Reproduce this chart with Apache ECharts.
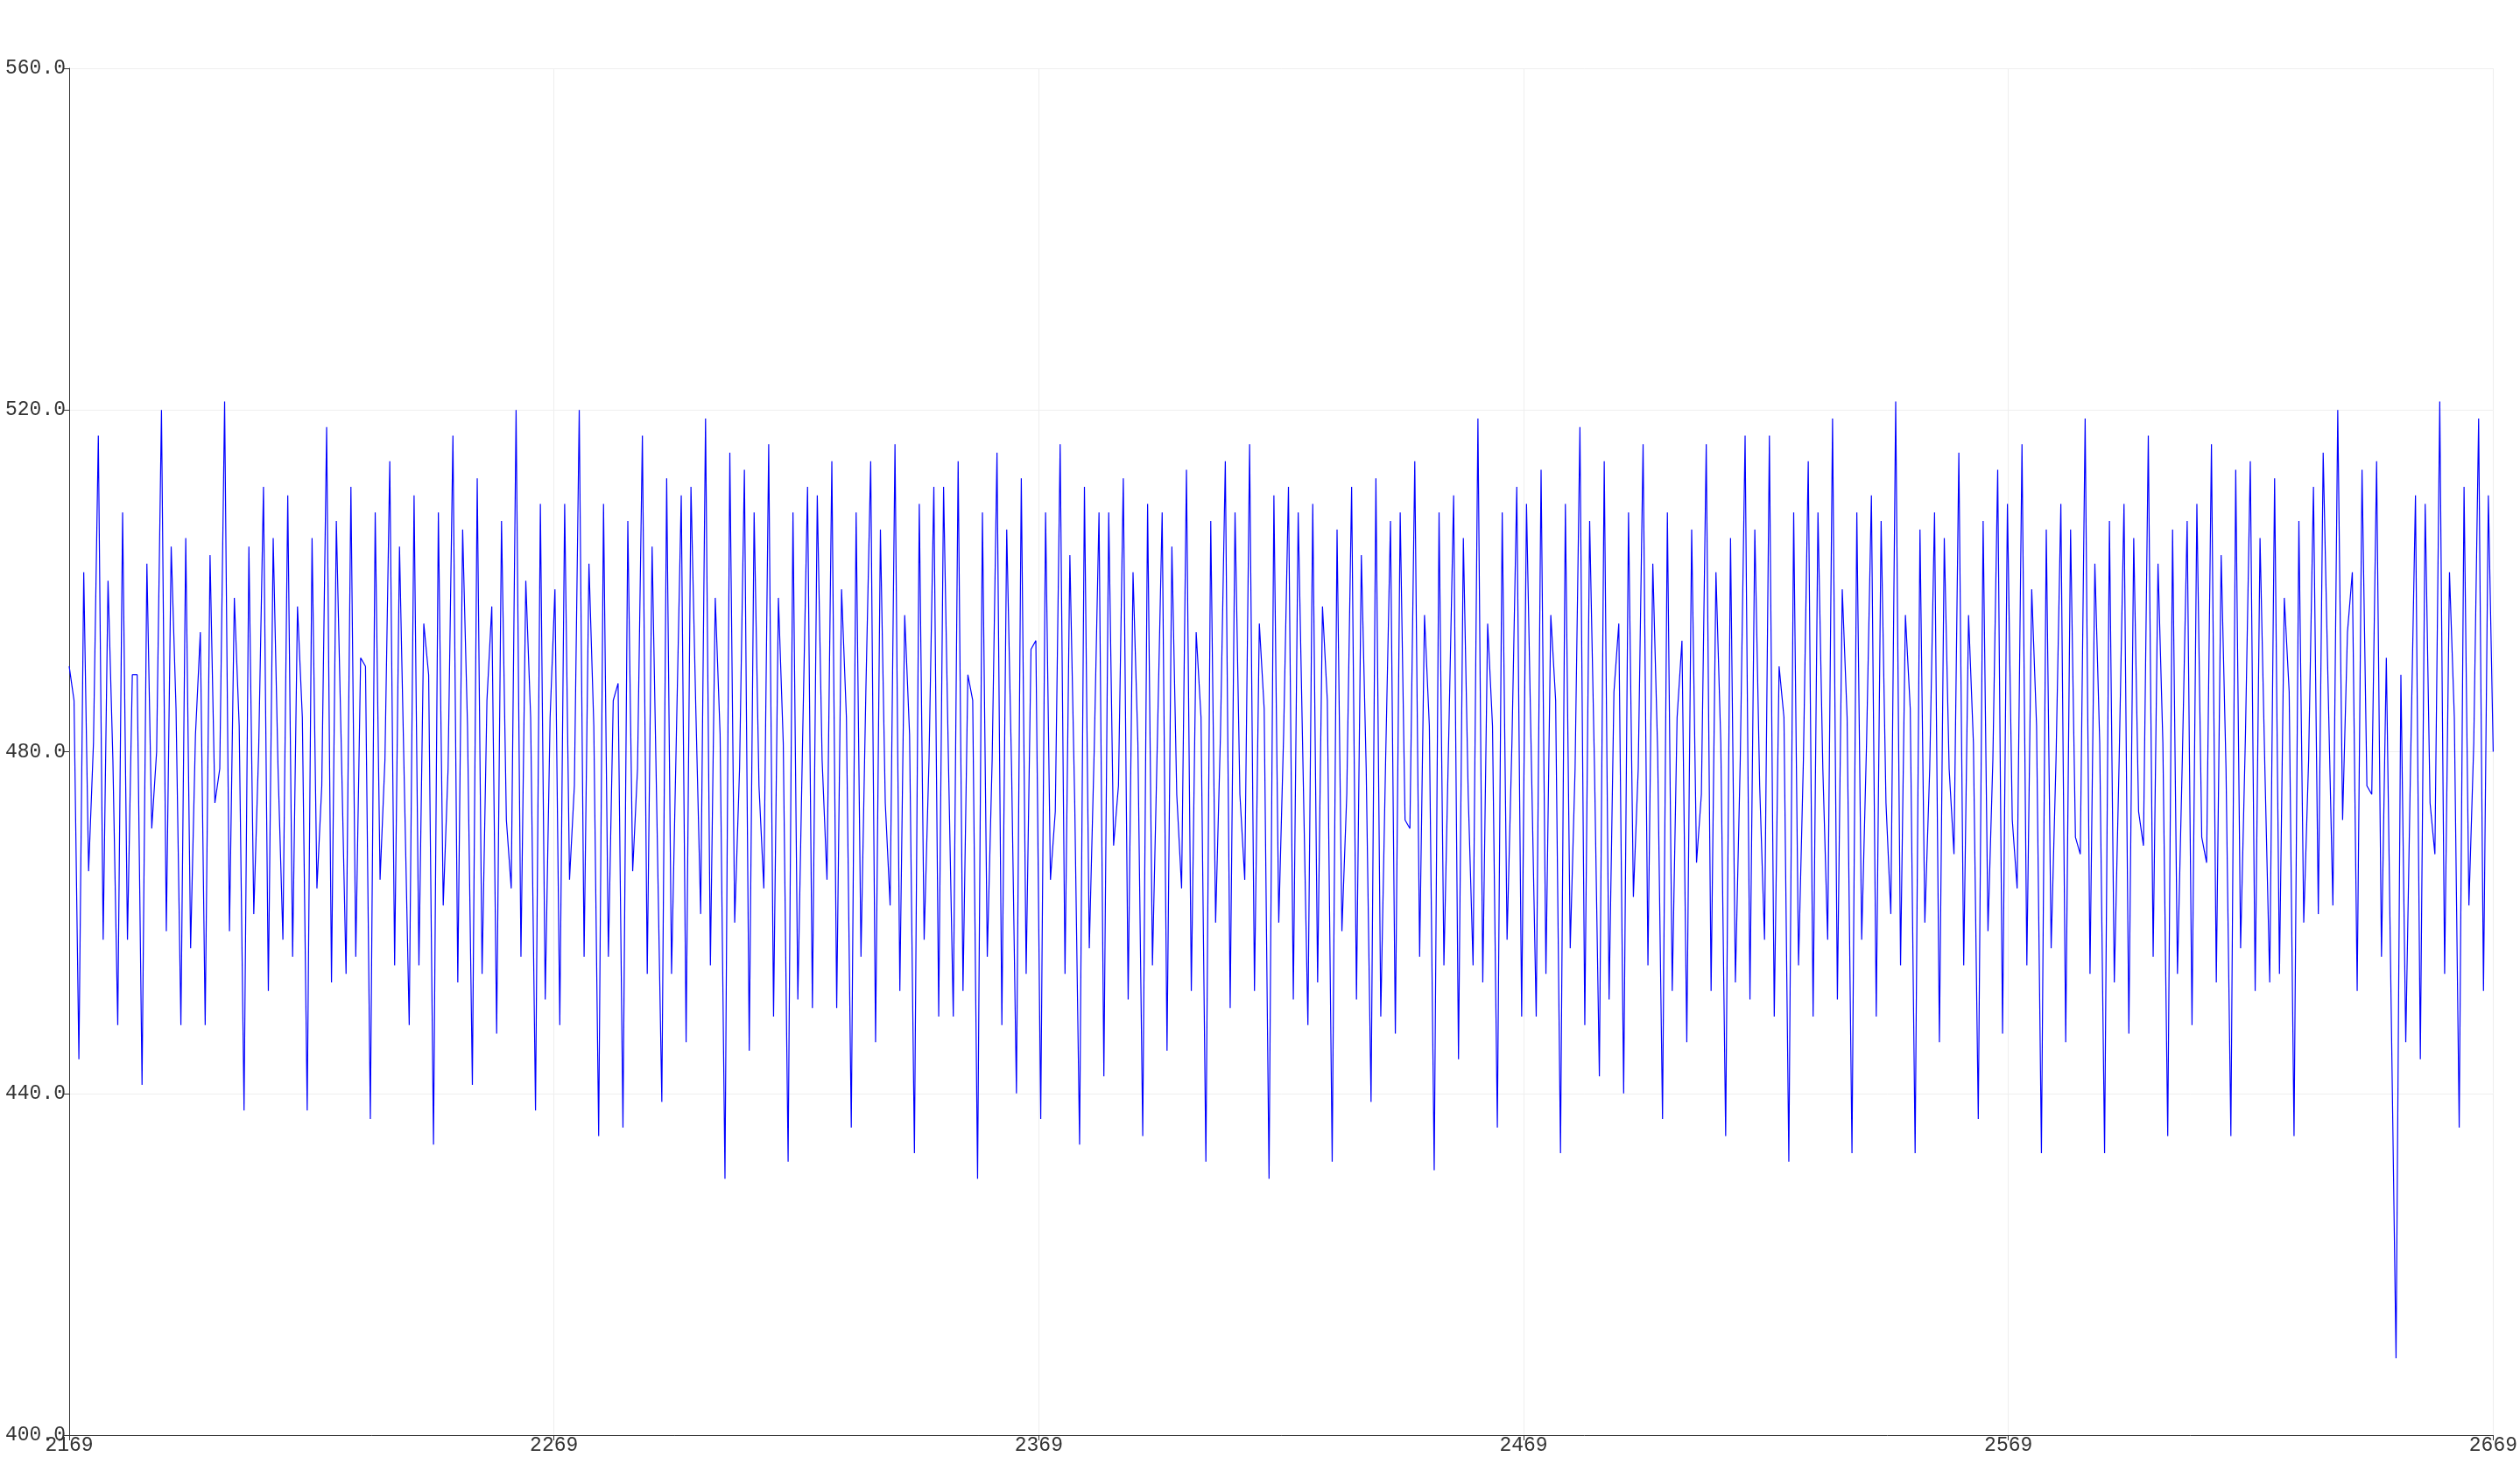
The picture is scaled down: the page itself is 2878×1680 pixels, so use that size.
<!DOCTYPE html>
<html>
<head>
<meta charset="utf-8">
<script src="https://cdn.jsdelivr.net/npm/echarts@6/dist/echarts.min.js"></script>
<style>
html,body{margin:0;padding:0;background:#fff;}
#chart{width:2878px;height:1680px;}
</style>
</head>
<body>
<div id="chart"></div>
<script>
// sample window start (x-axis label of the first sample)
const xStart = 2169;
const xSpan = 500;
const xTickLabels = ['2169', '2269', '2369', '2469', '2569', '2669'];
const yTickLabels = ['400.0', '440.0', '480.0', '520.0', '560.0'];

// serial samples (500 points)
const values = [
490,486,444,501,466,481,517,458,500,479,448,508,458,489,489,441,502,471,480,520,
459,504,485,448,505,457,482,494,448,503,474,478,521,459,498,483,438,504,461,480,
511,452,505,478,458,510,456,497,484,438,505,464,476,518,453,507,481,454,511,456,
491,490,437,508,465,479,514,455,504,476,448,510,455,495,489,434,508,462,478,517,
453,506,483,441,512,454,486,497,447,507,472,464,520,456,500,484,438,509,451,484,
499,448,509,465,476,520,456,502,483,435,509,456,486,488,436,507,466,478,517,454,
504,472,439,512,454,482,510,446,511,485,461,519,455,498,482,430,515,460,478,513,
445,508,476,464,516,449,498,481,432,508,451,482,511,450,510,479,465,514,450,499,
484,436,508,456,487,514,446,506,474,462,516,452,496,482,433,509,458,479,511,449,
511,479,449,514,452,489,486,430,508,456,479,515,448,506,478,440,512,454,492,493,
437,508,465,473,516,454,503,474,434,511,457,480,508,442,508,469,476,512,451,501,
481,435,509,455,481,508,445,504,475,464,513,452,494,484,432,507,460,482,514,450,
508,475,465,516,452,495,485,430,510,460,482,511,451,508,478,448,509,453,497,486,
432,506,459,475,511,451,503,478,439,512,449,479,507,447,508,472,471,514,456,496,
483,431,508,455,482,510,444,505,475,455,519,453,495,483,436,508,458,481,511,449,
509,479,449,513,454,496,486,433,509,457,478,518,448,507,478,442,514,451,487,495,
440,508,463,478,516,455,502,480,437,508,452,484,493,446,506,467,475,516,452,501,
481,435,505,453,479,517,451,506,476,458,517,449,490,484,432,508,455,479,514,449,
508,478,458,519,451,499,484,433,508,458,481,510,449,507,474,461,521,455,496,485,
433,506,460,478,508,446,505,478,468,515,455,496,481,437,507,459,479,513,447,509,
472,464,516,455,499,483,433,506,457,479,509,446,506,470,468,519,454,502,481,433,
507,453,479,509,447,505,473,469,517,456,502,481,435,506,454,479,507,448,509,470,
467,516,453,503,478,435,513,457,482,514,452,505,478,453,512,454,498,487,435,507,
460,479,511,461,515,488,462,520,472,494,501,452,513,476,475,514,456,491,450,409,
489,446,479,510,444,509,474,468,521,454,501,484,436,511,462,481,519,452,510,480
];

const n = values.length;
const points = values.map((v, i) => [i * xSpan / (n - 1), v]);

const chart = echarts.init(document.getElementById('chart'), null, {renderer: 'canvas'});
const labelFont = {fontFamily: 'Liberation Mono', fontSize: 23, color: '#333'};

chart.setOption({
  animation: false,
  backgroundColor: '#ffffff',
  grid: {left: 79, right: 18, top: 78, bottom: 41, containLabel: false},
  xAxis: {
    type: 'value',
    min: 0,
    max: xSpan,
    interval: 100,
    axisLine: {show: true, lineStyle: {color: '#333', width: 1}},
    axisTick: {show: true, length: 6, lineStyle: {color: '#333'}},
    splitLine: {show: true, lineStyle: {color: '#eeeeee', width: 1}},
    axisLabel: Object.assign({
      margin: 0,
      formatter: (v) => xTickLabels[Math.round(v / 100)],
      showMinLabel: true,
      showMaxLabel: true,
      hideOverlap: false
    }, labelFont)
  },
  yAxis: {
    type: 'value',
    min: 400,
    max: 560,
    interval: 40,
    axisLine: {show: true, lineStyle: {color: '#333', width: 1}},
    axisTick: {show: true, length: 6, lineStyle: {color: '#333'}},
    splitLine: {show: true, lineStyle: {color: '#eeeeee', width: 1}},
    axisLabel: Object.assign({
      margin: 4,
      formatter: (v) => yTickLabels[Math.round((v - 400) / 40)],
      showMinLabel: true,
      showMaxLabel: true,
      hideOverlap: false
    }, labelFont)
  },
  series: [{
    type: 'line',
    data: points,
    showSymbol: false,
    symbol: 'none',
    lineStyle: {color: '#0000ff', width: 1.2},
    silent: true
  }]
});
</script>
</body>
</html>
